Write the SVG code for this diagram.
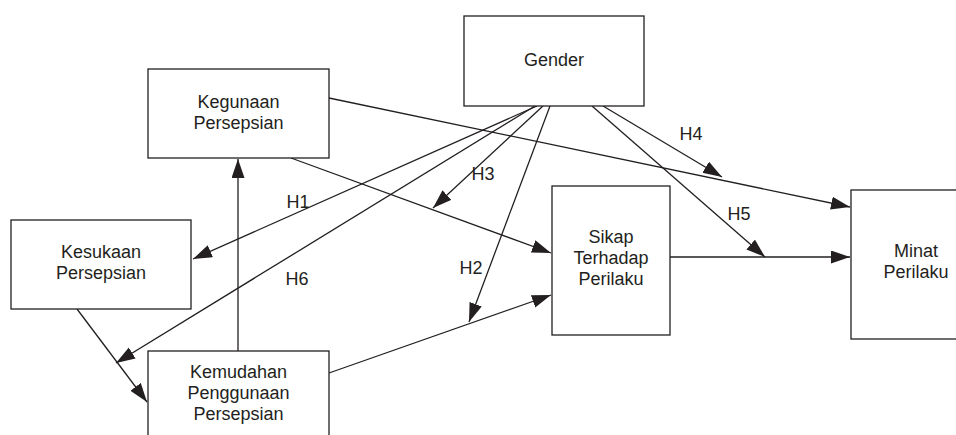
<svg xmlns="http://www.w3.org/2000/svg" width="956" height="435" viewBox="0 0 956 435">
<style>
.box{fill:#fff;stroke:#231f20;stroke-width:1.3}
.lbl{font-family:"Liberation Sans",Arial,sans-serif;font-size:18px;fill:#231f20;text-anchor:middle}
.con{stroke:#231f20;stroke-width:1.3;fill:none;marker-end:url(#ah)}
</style>
<defs>
<marker id="ah" markerUnits="userSpaceOnUse" markerWidth="20" markerHeight="14" refX="19" refY="6.5" orient="auto">
<path d="M0,0 L19,6.5 L0,13 z" fill="#231f20"/>
</marker>
</defs>
<rect width="956" height="435" fill="#fff"/>
<g id="connectors">
<line class="con" x1="329" y1="98" x2="850" y2="207"/>
<line class="con" x1="291" y1="158" x2="551" y2="253"/>
<line class="con" x1="329" y1="373" x2="551" y2="295"/>
<line class="con" x1="238" y1="351" x2="238" y2="159"/>
<line class="con" x1="77" y1="309" x2="147" y2="402"/>
<line class="con" x1="537" y1="106" x2="193" y2="259"/>
<line class="con" x1="535" y1="106" x2="116" y2="363"/>
<line class="con" x1="543" y1="106" x2="433" y2="208"/>
<line class="con" x1="550" y1="106" x2="469" y2="322"/>
<line class="con" x1="603" y1="106" x2="722" y2="177"/>
<line class="con" x1="592" y1="106" x2="765" y2="257"/>
<line class="con" x1="670" y1="257" x2="850" y2="257"/>
</g>
<g id="labels">
<text class="lbl" x="298" y="208">H1</text>
<text class="lbl" x="297" y="285">H6</text>
<text class="lbl" x="483" y="180">H3</text>
<text class="lbl" x="471" y="274">H2</text>
<text class="lbl" x="691" y="140">H4</text>
<text class="lbl" x="739" y="220">H5</text>
</g>
<g id="gender">
<rect class="box" x="464" y="16" width="180" height="90"/>
<text class="lbl" x="554" y="66">Gender</text>
</g>
<g id="kegunaan">
<rect class="box" x="148" y="69" width="181" height="89"/>
<text class="lbl" x="238.5" y="108">Kegunaan</text>
<text class="lbl" x="238.5" y="129">Persepsian</text>
</g>
<g id="kesukaan">
<rect class="box" x="11" y="220" width="180" height="89"/>
<text class="lbl" x="101" y="257.5">Kesukaan</text>
<text class="lbl" x="101" y="279">Persepsian</text>
</g>
<g id="kemudahan">
<rect class="box" x="148" y="351" width="181" height="92"/>
<text class="lbl" x="238.5" y="377.5">Kemudahan</text>
<text class="lbl" x="238.5" y="399">Penggunaan</text>
<text class="lbl" x="238.5" y="420">Persepsian</text>
</g>
<g id="sikap">
<rect class="box" x="552" y="186" width="118" height="149"/>
<text class="lbl" x="611" y="243">Sikap</text>
<text class="lbl" x="611" y="264">Terhadap</text>
<text class="lbl" x="611" y="285">Perilaku</text>
</g>
<g id="minat">
<rect class="box" x="851" y="190" width="130" height="149"/>
<text class="lbl" x="916" y="256.5">Minat</text>
<text class="lbl" x="916" y="278">Perilaku</text>
</g>
</svg>
